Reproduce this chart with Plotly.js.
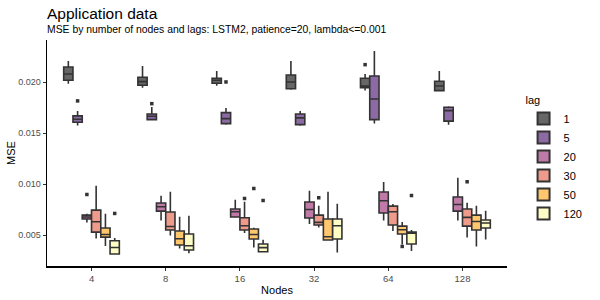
<!DOCTYPE html>
<html>
<head>
<meta charset="utf-8">
<script src="https://cdn.plot.ly/plotly-3.0.1.min.js"></script>
<style>html,body{margin:0;padding:0;background:#fff;}#chart{width:600px;height:300px;}</style>
</head>
<body>
<div id="chart"></div>
<script>
// Categories
var nodes = ['4', '8', '16', '32', '64', '128'];
var lags = ['1', '5', '20', '30', '50', '120'];
var lagColors = ['#666666', '#8c6aa4', '#bf7aa8', '#ee9b8b', '#fec76d', '#fdfdc5'];

// Box statistics per lag, one value per node (4, 8, 16, 32, 64, 128)
// outliers: [null] = no outlier for that box
var lag1_q1  = [0.02020, 0.01971, 0.01990, 0.01937, 0.01947, 0.01918];
var lag1_med = [0.02081, 0.02006, 0.02020, 0.02003, 0.01964, 0.01964];
var lag1_q3  = [0.02150, 0.02049, 0.02039, 0.02072, 0.02039, 0.02010];
var lag1_lo  = [0.01986, 0.01947, 0.01967, 0.01927, 0.01918, 0.01915];
var lag1_hi  = [0.02209, 0.02160, 0.02111, 0.02209, 0.02081, 0.02111];
var lag1_out = [[null], [null], [null], [null], [0.02173], [null]];

var lag5_q1  = [0.01608, 0.01633, 0.01594, 0.01584, 0.01633, 0.01618];
var lag5_med = [0.01637, 0.01667, 0.01643, 0.01650, 0.01836, 0.01722];
var lag5_q3  = [0.01670, 0.01689, 0.01702, 0.01689, 0.02062, 0.01755];
var lag5_lo  = [0.01575, 0.01624, 0.01584, 0.01572, 0.01594, 0.01584];
var lag5_hi  = [0.01719, 0.01758, 0.01748, 0.01719, 0.02307, 0.01765];
var lag5_out = [[0.01817], [0.01790], [0.02003], [null], [null], [null]];

var lag20_q1  = [0.00657, 0.00735, 0.00677, 0.00667, 0.00716, 0.00735];
var lag20_med = [0.00677, 0.00778, 0.00728, 0.00751, 0.00836, 0.00800];
var lag20_q3  = [0.00696, 0.00814, 0.00755, 0.00824, 0.00922, 0.00873];
var lag20_lo  = [0.00624, 0.00643, 0.00675, 0.00608, 0.00643, 0.00643];
var lag20_hi  = [0.00709, 0.00885, 0.00846, 0.00934, 0.01020, 0.01062];
var lag20_out = [[0.00898], [null], [null], [null], [null], [null]];

var lag30_q1  = [0.00529, 0.00549, 0.00549, 0.00598, 0.00598, 0.00588];
var lag30_med = [0.00630, 0.00584, 0.00591, 0.00624, 0.00728, 0.00673];
var lag30_q3  = [0.00745, 0.00726, 0.00670, 0.00696, 0.00784, 0.00755];
var lag30_lo  = [0.00467, 0.00496, 0.00520, 0.00575, 0.00539, 0.00477];
var lag30_hi  = [0.00983, 0.00925, 0.00827, 0.00787, 0.00804, 0.00817];
var lag30_out = [[null], [null], [0.00859], [0.00866], [null], [0.01023]];

var lag50_q1  = [0.00480, 0.00402, 0.00461, 0.00451, 0.00510, 0.00549];
var lag50_med = [0.00506, 0.00464, 0.00506, 0.00483, 0.00552, 0.00633];
var lag50_q3  = [0.00569, 0.00539, 0.00559, 0.00657, 0.00588, 0.00696];
var lag50_lo  = [0.00392, 0.00369, 0.00378, 0.00450, 0.00408, 0.00388];
var lag50_hi  = [0.00709, 0.00679, 0.00572, 0.00925, 0.00627, 0.00787];
var lag50_out = [[null], [null], [0.00957], [null], [0.00388], [null]];

var lag120_q1  = [0.00314, 0.00353, 0.00336, 0.00461, 0.00412, 0.00569];
var lag120_med = [0.00378, 0.00395, 0.00376, 0.00591, 0.00523, 0.00618];
var lag120_q3  = [0.00444, 0.00510, 0.00412, 0.00657, 0.00529, 0.00647];
var lag120_lo  = [0.00310, 0.00320, 0.00335, 0.00329, 0.00343, 0.00457];
var lag120_hi  = [0.00471, 0.00689, 0.00454, 0.00807, 0.00549, 0.00738];
var lag120_out = [[0.00712], [null], [0.00839], [null], [0.00888], [null]];

var stats = [
  [lag1_q1, lag1_med, lag1_q3, lag1_lo, lag1_hi, lag1_out],
  [lag5_q1, lag5_med, lag5_q3, lag5_lo, lag5_hi, lag5_out],
  [lag20_q1, lag20_med, lag20_q3, lag20_lo, lag20_hi, lag20_out],
  [lag30_q1, lag30_med, lag30_q3, lag30_lo, lag30_hi, lag30_out],
  [lag50_q1, lag50_med, lag50_q3, lag50_lo, lag50_hi, lag50_out],
  [lag120_q1, lag120_med, lag120_q3, lag120_lo, lag120_hi, lag120_out]
];

var traces = lags.map(function (lag, k) {
  var s = stats[k];
  return {
    type: 'box',
    name: lag,
    x: nodes,
    q1: s[0], median: s[1], q3: s[2],
    lowerfence: s[3], upperfence: s[4],
    y: s[5],
    boxpoints: 'outliers',
    jitter: 0,
    pointpos: 0,
    whiskerwidth: 0,
    fillcolor: lagColors[k],
    line: {color: '#333333', width: 1.6},
    marker: {color: '#333333', size: 3.5, symbol: 'square', line: {width: 0}},
    hoverinfo: 'skip'
  };
});

var layout = {
  width: 600, height: 300,
  paper_bgcolor: '#ffffff', plot_bgcolor: '#ffffff',
  margin: {l: 47, r: 66, t: 40, b: 34, pad: 0},
  font: {family: 'Liberation Sans, Arial, sans-serif', color: '#000000', size: 11},
  title: {
    text: 'Application data',
    x: 47 / 600, xanchor: 'left', xref: 'container',
    y: 1 - 14 / 300, yanchor: 'middle', yref: 'container',
    font: {size: 15.5, color: '#000000'}
  },
  annotations: [{
    text: 'MSE by number of nodes and lags: LSTM2, patience=20, lambda<=0.001',
    xref: 'paper', yref: 'paper', x: -2 / 486, y: (266 - 30) / 226,
    xanchor: 'left', yanchor: 'middle', showarrow: false,
    font: {size: 10.4, color: '#000000'}
  }],
  boxmode: 'group',
  boxgap: 0.25,
  boxgroupgap: 0,
  showlegend: true,
  legend: {
    title: {text: 'lag', font: {size: 11, color: '#000000'}},
    x: 1.036, xanchor: 'left', y: 0.78, yanchor: 'top',
    font: {size: 11, color: '#000000'},
    tracegroupgap: 0, itemsizing: 'constant'
  },
  xaxis: {
    type: 'category',
    categoryorder: 'array', categoryarray: nodes,
    range: [-0.6, 5.6],
    showline: true, linecolor: '#000000', linewidth: 1.5,
    ticks: 'outside', ticklen: 3, tickcolor: '#333333', tickwidth: 1,
    tickfont: {size: 9.5, color: '#4d4d4d'},
    showgrid: false, zeroline: false,
    title: {text: 'Nodes', font: {size: 11, color: '#000000'}, standoff: 3}
  },
  yaxis: {
    range: [0.00196, 0.02415],
    tickvals: [0.005, 0.010, 0.015, 0.020],
    ticktext: ['0.005', '0.010', '0.015', '0.020'],
    showline: true, linecolor: '#000000', linewidth: 1.5,
    ticks: 'outside', ticklen: 3, tickcolor: '#333333', tickwidth: 1,
    tickfont: {size: 9, color: '#4d4d4d'},
    showgrid: false, zeroline: false,
    title: {text: 'MSE', font: {size: 11, color: '#000000'}, standoff: 0}
  }
};

Plotly.newPlot('chart', traces, layout, {displayModeBar: false, staticPlot: true});
</script>
</body>
</html>
